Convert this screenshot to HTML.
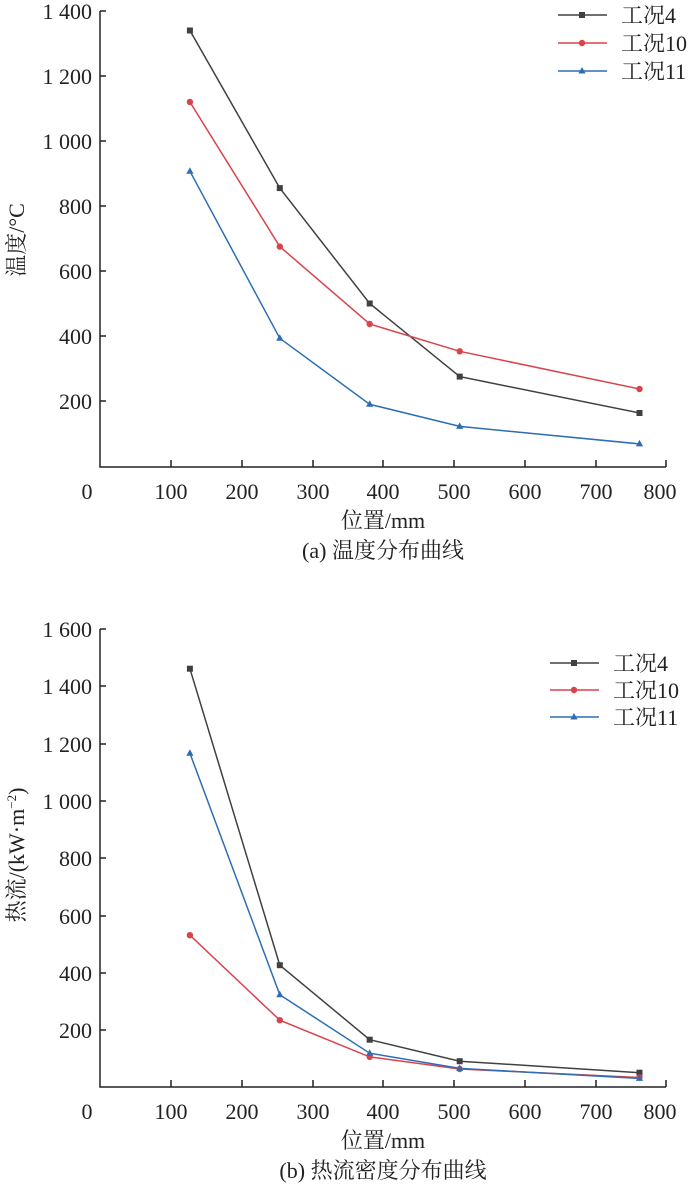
<!DOCTYPE html>
<html><head><meta charset="utf-8"><style>
html,body{margin:0;padding:0;background:#fff;}
svg{display:block;}
text{font-family:"Liberation Serif","Noto Serif CJK SC",serif;fill:#222;}
</style></head><body>
<svg width="700" height="1190" viewBox="0 0 700 1190" xmlns="http://www.w3.org/2000/svg">
<defs>
<g id="sq"><rect x="-3" y="-3" width="6" height="6"/></g>
<g id="ci"><circle r="3.2"/></g>
<g id="tr"><polygon points="0,-4 3.6,2.5 -3.6,2.5"/></g>
</defs>
<!-- Chart 1 -->
<g stroke="#222" stroke-width="1.5" fill="none">
<path d="M100,11 V467 H666"/>
<path d="M100,11 h6 M100,76 h6 M100,141 h6 M100,206 h6 M100,271 h6 M100,336 h6 M100,401 h6"/>
<path d="M171,467 v-7 M242,467 v-7 M313,467 v-7 M383,467 v-7 M454,467 v-7 M525,467 v-7 M596,467 v-7 M666,467 v-7"/>
</g>
<g font-size="22" text-anchor="end">
<text x="92" y="19">1 400</text><text x="92" y="84">1 200</text><text x="92" y="149">1 000</text>
<text x="92" y="214">800</text><text x="92" y="279">600</text><text x="92" y="344">400</text><text x="92" y="409">200</text>
</g>
<g font-size="22" text-anchor="middle">
<text x="87" y="499">0</text><text x="171" y="499">100</text><text x="242" y="499">200</text><text x="313" y="499">300</text>
<text x="383" y="499">400</text><text x="454" y="499">500</text><text x="525" y="499">600</text><text x="596" y="499">700</text><text x="660" y="499">800</text>
<text x="383" y="528">位置/mm</text>
<text x="383" y="558">(a) 温度分布曲线</text>
</g>
<text font-size="22" text-anchor="middle" transform="translate(24,240) rotate(-90)">温度/°C</text>
<polyline fill="none" stroke="#404040" stroke-width="1.5" points="189.9,30.5 279.8,188.1 369.7,303.5 459.7,376.6 639.5,413"/>
<polyline fill="none" stroke="#d9434a" stroke-width="1.5" points="189.9,102 279.8,246.6 369.7,324 459.7,351.3 639.5,389"/>
<polyline fill="none" stroke="#2e6db4" stroke-width="1.5" points="189.9,171.2 279.8,338.3 369.7,404.3 459.7,426.4 639.5,443.9"/>
<g fill="#404040"><use href="#sq" x="189.9" y="30.5"/><use href="#sq" x="279.8" y="188.1"/><use href="#sq" x="369.7" y="303.5"/><use href="#sq" x="459.7" y="376.6"/><use href="#sq" x="639.5" y="413"/></g>
<g fill="#d9434a"><use href="#ci" x="189.9" y="102"/><use href="#ci" x="279.8" y="246.6"/><use href="#ci" x="369.7" y="324"/><use href="#ci" x="459.7" y="351.3"/><use href="#ci" x="639.5" y="389"/></g>
<g fill="#2e6db4"><use href="#tr" x="189.9" y="171.2"/><use href="#tr" x="279.8" y="338.3"/><use href="#tr" x="369.7" y="404.3"/><use href="#tr" x="459.7" y="426.4"/><use href="#tr" x="639.5" y="443.9"/></g>
<g stroke-width="1.5"><line x1="558" y1="15" x2="607" y2="15" stroke="#404040"/><line x1="558" y1="43" x2="607" y2="43" stroke="#d9434a"/><line x1="558" y1="71" x2="607" y2="71" stroke="#2e6db4"/></g>
<use href="#sq" x="582" y="15" fill="#404040"/><use href="#ci" x="582" y="43" fill="#d9434a"/><use href="#tr" x="582" y="71" fill="#2e6db4"/>
<g font-size="22"><text x="621" y="23">工况4</text><text x="621" y="51">工况10</text><text x="621" y="79">工况11</text></g>

<!-- Chart 2 -->
<g stroke="#222" stroke-width="1.5" fill="none">
<path d="M100,629 V1087 H666"/>
<path d="M100,629 h6 M100,686 h6 M100,744 h6 M100,801 h6 M100,858 h6 M100,916 h6 M100,973 h6 M100,1030 h6"/>
<path d="M171,1087 v-7 M242,1087 v-7 M313,1087 v-7 M383,1087 v-7 M454,1087 v-7 M525,1087 v-7 M596,1087 v-7 M666,1087 v-7"/>
</g>
<g font-size="22" text-anchor="end">
<text x="92" y="637">1 600</text><text x="92" y="694">1 400</text><text x="92" y="752">1 200</text><text x="92" y="809">1 000</text>
<text x="92" y="866">800</text><text x="92" y="924">600</text><text x="92" y="981">400</text><text x="92" y="1038">200</text>
</g>
<g font-size="22" text-anchor="middle">
<text x="87" y="1119">0</text><text x="171" y="1119">100</text><text x="242" y="1119">200</text><text x="313" y="1119">300</text>
<text x="383" y="1119">400</text><text x="454" y="1119">500</text><text x="525" y="1119">600</text><text x="596" y="1119">700</text><text x="660" y="1119">800</text>
<text x="383" y="1148">位置/mm</text>
<text x="383" y="1178">(b) 热流密度分布曲线</text>
</g>
<text font-size="22" text-anchor="middle" transform="translate(24,855) rotate(-90)">热流/(kW·m<tspan font-size="13" dy="-8">−2</tspan><tspan dy="8">)</tspan></text>
<polyline fill="none" stroke="#404040" stroke-width="1.5" points="189.9,668.7 279.8,965.2 369.7,1039.7 459.7,1061.2 639.5,1072.7"/>
<polyline fill="none" stroke="#d9434a" stroke-width="1.5" points="189.9,935.2 279.8,1020.2 369.7,1056.9 459.7,1069 639.5,1077.5"/>
<polyline fill="none" stroke="#2e6db4" stroke-width="1.5" points="189.9,753.2 279.8,994.8 369.7,1053.2 459.7,1068.4 639.5,1078.4"/>
<g fill="#404040"><use href="#sq" x="189.9" y="668.7"/><use href="#sq" x="279.8" y="965.2"/><use href="#sq" x="369.7" y="1039.7"/><use href="#sq" x="459.7" y="1061.2"/><use href="#sq" x="639.5" y="1072.7"/></g>
<g fill="#d9434a"><use href="#ci" x="189.9" y="935.2"/><use href="#ci" x="279.8" y="1020.2"/><use href="#ci" x="369.7" y="1056.9"/><use href="#ci" x="459.7" y="1069"/><use href="#ci" x="639.5" y="1077.5"/></g>
<g fill="#2e6db4"><use href="#tr" x="189.9" y="753.2"/><use href="#tr" x="279.8" y="994.8"/><use href="#tr" x="369.7" y="1053.2"/><use href="#tr" x="459.7" y="1068.4"/><use href="#tr" x="639.5" y="1078.4"/></g>
<g stroke-width="1.5"><line x1="550" y1="663" x2="599" y2="663" stroke="#404040"/><line x1="550" y1="690" x2="599" y2="690" stroke="#d9434a"/><line x1="550" y1="717" x2="599" y2="717" stroke="#2e6db4"/></g>
<use href="#sq" x="574" y="663" fill="#404040"/><use href="#ci" x="574" y="690" fill="#d9434a"/><use href="#tr" x="574" y="717" fill="#2e6db4"/>
<g font-size="22"><text x="613" y="671">工况4</text><text x="613" y="698">工况10</text><text x="613" y="725">工况11</text></g>
</svg>
</body></html>
